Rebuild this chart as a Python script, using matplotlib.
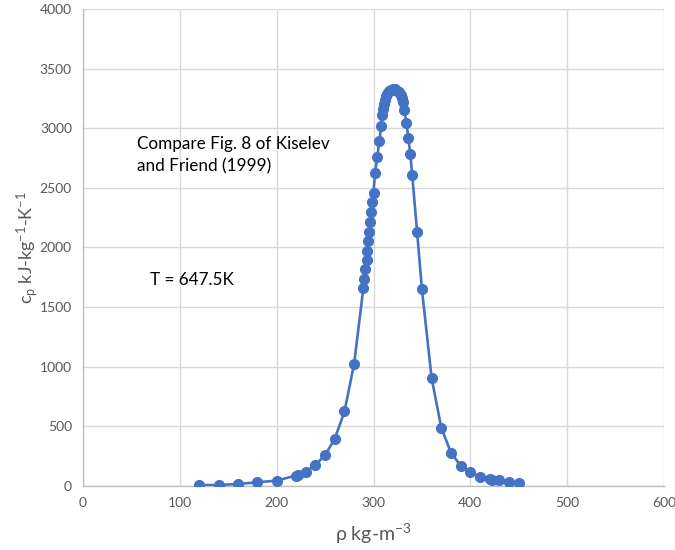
import matplotlib
matplotlib.use("Agg")
import matplotlib.pyplot as plt

plt.rcParams['font.family'] = ['Lato', 'DejaVu Sans']
plt.rcParams['mathtext.fontset'] = 'custom'
plt.rcParams['mathtext.rm'] = 'Lato'
plt.rcParams['mathtext.it'] = 'Lato'

density = [120, 140, 160, 180, 200, 220, 222, 230, 240, 250, 260, 270, 280,
           289.5, 290.5, 291.5, 293, 293.5, 294, 295.5, 296.5, 297.5, 298.5, 300,
           301.5, 304, 306, 308, 309, 310, 311, 312, 313, 314, 316, 318, 320,
           322, 324, 326, 328, 329, 330, 331.5, 334, 336, 338, 340,
           345, 350, 360, 370, 380, 390, 400, 410, 420, 422, 430, 440, 450]
cp = [8, 8, 17, 31, 45, 88, 95, 120, 176, 260, 395, 625, 1025,
      1659, 1737, 1818, 1896, 1974, 2055, 2133, 2217, 2296, 2380, 2461,
      2623, 2763, 2897, 3015, 3110, 3160, 3200, 3240, 3270, 3290, 3310, 3322, 3328,
      3325, 3315, 3300, 3280, 3250, 3220, 3154, 3048, 2916, 2785, 2605,
      2134, 1650, 906, 488, 280, 170, 115, 78, 59, 53, 48, 36, 28]

x_ticks = [0, 100, 200, 300, 400, 500, 600]
y_ticks = [0, 500, 1000, 1500, 2000, 2500, 3000, 3500, 4000]

fig = plt.figure(figsize=(6.75, 5.5), dpi=100)
ax = fig.add_axes([83/675, 1 - 486/550, (664 - 83)/675, (486 - 9)/550])

ax.plot(density, cp, color='#4472C4', linewidth=1.9, marker='o',
        markersize=7, markerfacecolor='#4472C4', markeredgecolor='#4472C4',
        zorder=3)

ax.set_xlim(0, 600)
ax.set_ylim(0, 4000)
ax.set_xticks(x_ticks)
ax.set_yticks(y_ticks)
ax.grid(True, color='#d9d9d9', linewidth=1.0, zorder=0)
ax.set_axisbelow(True)
for s in ['top', 'right']:
    ax.spines[s].set_visible(False)
for s in ['left', 'bottom']:
    ax.spines[s].set_color('#bfbfbf')
    ax.spines[s].set_linewidth(1.0)
ax.tick_params(axis='both', length=0, colors='#595959', labelsize=10, pad=8)

ax.set_xlabel(r'ρ kg-m$^{-3}$', fontsize=14, color='#595959', labelpad=9)
ax.set_ylabel(r'c$_{\mathrm{p}}$ kJ-kg$^{-1}$-K$^{-1}$', fontsize=13,
              color='#595959', labelpad=0)

ax.text(56, 2935, 'Compare Fig. 8 of Kiselev\nand Friend (1999)', fontsize=12.3,
        color='black', va='top', ha='left', linespacing=1.45)
ax.text(69, 1728, 'T = 647.5K', fontsize=12.3, color='black', va='center', ha='left')

fig.savefig('out.png', dpi=100)
